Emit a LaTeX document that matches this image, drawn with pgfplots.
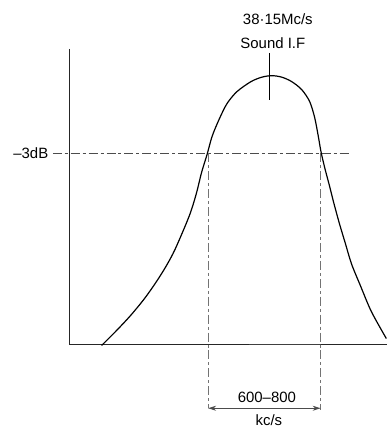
\documentclass[border=0pt]{standalone}
\usepackage{pgfplots}
\pgfplotsset{compat=1.18}
\usepackage{fontspec}
\setmainfont{Liberation Sans}
\usetikzlibrary{arrows.meta}
\begin{document}
\begin{tikzpicture}
\begin{axis}[
  x=1pt, y=1pt,
  xmin=0, xmax=389, ymin=-429, ymax=0,
  hide axis, clip=false,
  every axis plot/.append style={no markers},
]
\path (axis cs:0,0) rectangle (axis cs:389,-429);
% axes
\addplot[black!85, line width=0.8pt] coordinates {(70,-49) (70,-346) (389,-346)};
\addplot[black!75, line width=1.8pt] coordinates {(250,-346) (322,-346)};
% -3dB line
\addplot[black!70, line width=0.7pt, dash pattern=on 9pt off 3pt on 3pt off 3pt] coordinates {(53,-154) (350,-154)};
% verticals
\addplot[black!55, line width=0.7pt, dash pattern=on 9pt off 3pt on 3pt off 3pt] coordinates {(209,-154) (209,-410)};
\addplot[black!55, line width=0.7pt, dash pattern=on 9pt off 3pt on 3pt off 3pt] coordinates {(322,-154) (322,-412)};
% curve
\addplot[black, line width=1.2pt, smooth] coordinates {
(102,-347) (117,-332) (131,-317) (145,-300) (157,-283) (167,-267) (176,-250)
(190,-217) (197,-195) (202.5,-173) (208,-155) (213,-137) (220,-120) (228,-104)
(238,-92) (252,-82) (263,-77.5) (273,-76) (283,-77.5) (293,-82) (303,-90)
(311,-102) (316,-118) (319.5,-136) (322.5,-153) (326.5,-170) (331,-187)
(335,-203) (341,-225) (347,-245) (353,-265) (362,-287) (373,-313) (388,-340)};
% peak marker
\addplot[black, line width=0.7pt] coordinates {(271,-53) (271,-100)};
% arrow
\addplot[black!70, line width=1pt, {Stealth[length=8pt,width=5pt]}-{Stealth[length=8pt,width=5pt]}] coordinates {(209,-410) (322,-410)};
% texts
\node[font=\fontsize{15}{17}\selectfont] at (axis cs:279,-19) {38·15Mc/s};
\node[font=\fontsize{15}{17}\selectfont] at (axis cs:274,-43) {Sound I.F};
\node[font=\fontsize{15}{17}\selectfont, anchor=east] at (axis cs:52,-154) {–3dB};
\node[font=\fontsize{15}{17}\selectfont] at (axis cs:268,-399) {600–800};
\node[font=\fontsize{15}{17}\selectfont] at (axis cs:270,-422) {kc/s};
\end{axis}
\end{tikzpicture}
\end{document}
